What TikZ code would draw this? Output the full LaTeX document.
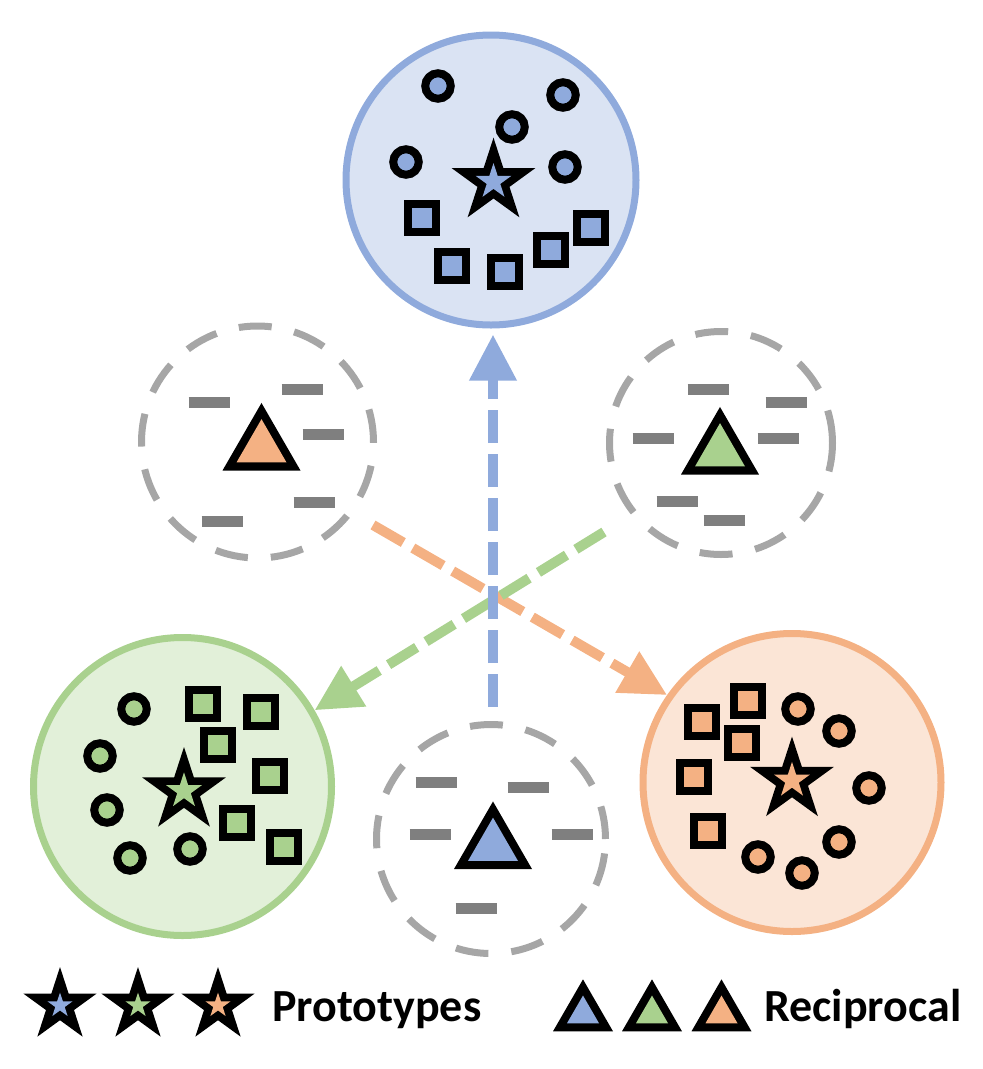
\documentclass[tikz,border=0pt]{standalone}
\usepackage{fontspec}
\setmainfont{Carlito}
\usetikzlibrary{arrows.meta}
\definecolor{cblue}{HTML}{8FAADC}
\definecolor{cbluebg}{HTML}{DAE3F3}
\definecolor{cgreen}{HTML}{A9D18E}
\definecolor{cgreenbg}{HTML}{E2F0D9}
\definecolor{corange}{HTML}{F4B183}
\definecolor{corangebg}{HTML}{FBE5D6}
\definecolor{cring}{HTML}{A6A6A6}
\definecolor{cbar}{HTML}{7F7F7F}
% star: x, y, outer R, inner colored R, colour
\newcommand\pstar[5]{%
  \fill[black] (#1,#2) +(-90:#3) -- +(-54:{0.382*#3}) -- +(-18:#3) -- +(18:{0.382*#3}) -- +(54:#3) -- +(90:{0.382*#3}) -- +(126:#3) -- +(162:{0.382*#3}) -- +(198:#3) -- +(234:{0.382*#3}) -- cycle;
  \fill[#5] (#1,#2) +(-90:#4) -- +(-54:{0.382*#4}) -- +(-18:#4) -- +(18:{0.382*#4}) -- +(54:#4) -- +(90:{0.382*#4}) -- +(126:#4) -- +(162:{0.382*#4}) -- +(198:#4) -- +(234:{0.382*#4}) -- cycle;}
% triangle: cx, cy, outer side, inner side, colour
\newcommand\ptri[5]{%
  \fill[black] (#1,#2) +(0,{-#3/sqrt(3)}) -- +({#3/2},{#3/(2*sqrt(3))}) -- +({-#3/2},{#3/(2*sqrt(3))}) -- cycle;
  \fill[#5] (#1,#2) +(0,{-#4/sqrt(3)}) -- +({#4/2},{#4/(2*sqrt(3))}) -- +({-#4/2},{#4/(2*sqrt(3))}) -- cycle;}
\begin{document}
\begin{tikzpicture}[x=1pt,y=-1pt,
  bigc/.style={circle, inner sep=0pt, line width=7pt},
  ring/.style={circle, inner sep=0pt, draw=cring, line width=7pt, dash pattern=on 33pt off 23pt},
  gbar/.style={draw=cbar, line width=11pt},
  dot/.style={draw=black, line width=8pt},
  sqr/.style={draw=black, line width=8pt},
  arr/.style={line width=10pt, dash pattern=on 33pt off 11pt, -{Triangle[length=46pt,width=45pt]}},
  lbl/.style={anchor=base west, inner sep=0pt, font=\bfseries\fontsize{46}{46}\selectfont}]
\useasboundingbox (0,0) rectangle (983,1069);

% big clusters
\node[bigc, draw=cblue, fill=cbluebg, minimum size=290pt] (bluebig) at (491,180) {};
\node[bigc, draw=cgreen, fill=cgreenbg, minimum size=298pt] (greenbig) at (182.5,786.5) {};
\node[bigc, draw=corange, fill=corangebg, minimum size=298pt] (orangebig) at (792,782.5) {};

% dashed reciprocal rings
\node[ring, minimum size=232pt] (lring) at (257.5,442) {};
\node[ring, minimum size=223pt] (rring) at (721,443) {};
\node[ring, minimum size=229pt] (bring) at (491,839) {};

% bars in rings
\foreach \x/\y in {209/402, 302/389, 323/434, 314/502, 222/521,
                   708/389, 786/402, 653/438, 778/438, 677/501, 724/520,
                   436/782, 528/787, 430/834, 572/834, 476/908}
  \draw[gbar] ({\x-20.5},\y) -- ({\x+20.5},\y);

% triangles in rings
\ptri{261.5}{448}{78}{50}{corange}
\ptri{720}{452}{78}{50}{cgreen}
\ptri{493}{846.5}{78}{50}{cblue}

% blue cluster
\foreach \x/\y in {438/86, 563/95, 512/127, 406/162, 565/167}
  \draw[dot, fill=cblue] (\x,\y) circle[radius=12.75pt];
\foreach \x/\y in {422/218, 452/266, 505/272, 551/250, 591/228}
  \draw[sqr, fill=cblue] ({\x-13.75},{\y-13.75}) rectangle +(27.5,27.5);
\pstar{493.5}{181.7}{44}{18.7}{cblue}

% green cluster
\foreach \x/\y in {134/709, 100/756, 107/810, 130/858, 190/849}
  \draw[dot, fill=cgreen] (\x,\y) circle[radius=12.75pt];
\foreach \x/\y in {203/704, 261/712, 218/745, 270/776, 237/823, 284/847}
  \draw[sqr, fill=cgreen] ({\x-13.75},{\y-13.75}) rectangle +(27.5,27.5);
\pstar{184}{791}{44}{18.7}{cgreen}

% orange cluster
\foreach \x/\y in {798/709, 839/731, 869/788, 839/842, 758/857, 802/873}
  \draw[dot, fill=corange] (\x,\y) circle[radius=12.75pt];
\foreach \x/\y in {702/722, 748/701, 742/743, 694/777, 708/831}
  \draw[sqr, fill=corange] ({\x-13.75},{\y-13.75}) rectangle +(27.5,27.5);
\pstar{792}{780.5}{44}{18.7}{corange}

% arrows
\coordinate (os) at (373,525);
\coordinate (gs) at (604,532);
\coordinate (bs) at (493,707);
\draw[arr, corange, dash pattern=on 35pt off 11pt] (os) -- (orangebig.145);
\draw[arr, cgreen] (gs) -- (greenbig.30);
\draw[arr, cblue, shorten >=6pt] (bs) -- (bs |- bluebig.south);

% legend
\pstar{60}{1005.5}{38.5}{13}{cblue}
\pstar{138}{1005.5}{38.5}{13}{cgreen}
\pstar{218}{1005.5}{38.5}{13}{corange}
\node[lbl] (protolbl) at (272,1021) {Prototypes};
\ptri{583}{1014}{60}{32}{cblue}
\ptri{652}{1014}{60}{32}{cgreen}
\ptri{721.5}{1014}{60}{32}{corange}
\node[lbl] (reciplbl) at (764,1021) {Reciprocal};
\end{tikzpicture}
\end{document}
